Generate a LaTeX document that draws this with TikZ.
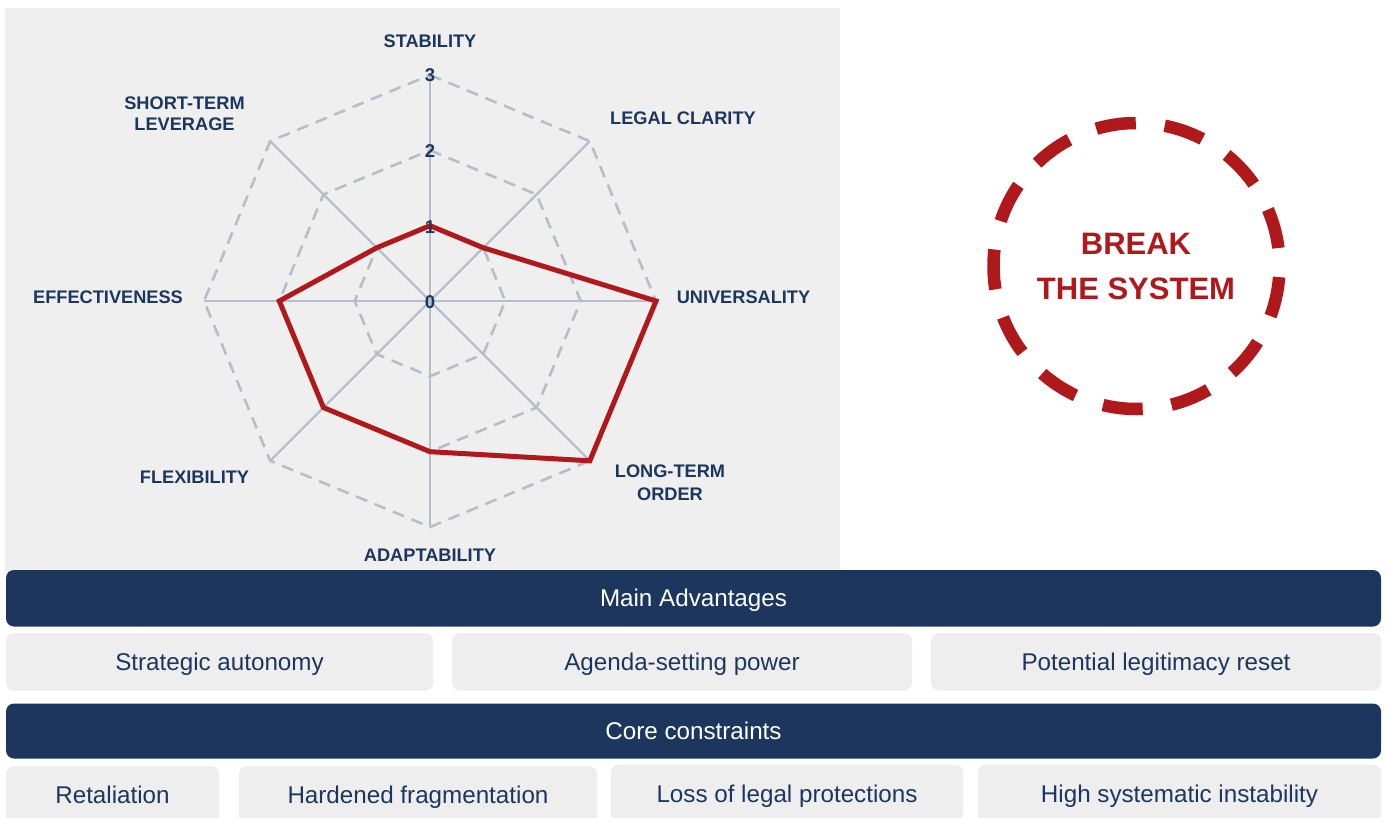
\documentclass[tikz,border=0pt]{standalone}
\usepackage{fontspec}
\setmainfont{Liberation Sans}
\usetikzlibrary{calc}
\definecolor{navy}{HTML}{1C365E}
\definecolor{panelgray}{HTML}{EFEFEF}
\definecolor{boxgray}{HTML}{EEEEEE}
\definecolor{gridc}{HTML}{B6BECA}
\definecolor{redc}{HTML}{B0191B}
\tikzset{
  gridaxis/.style={draw=gridc, line width=2.4pt},
  griddash/.style={draw=gridc, line width=2.6pt, dash pattern=on 12pt off 8pt},
  redline/.style={draw=redc, line width=5pt, line join=miter},
  axlabel/.style={text=navy, font=\fontsize{18.2}{21.7}\selectfont\bfseries, align=center, anchor=base, inner sep=0pt},
  numlabel/.style={text=navy, font=\fontsize{18.5}{21}\selectfont\bfseries, inner sep=0pt, text height=13.2pt, text depth=0pt},
  navybar/.style={fill=navy, rounded corners=8pt, text=white, font=\fontsize{24.2}{28}\selectfont, inner sep=0pt, text height=17.3pt, text depth=0pt},
  graybox/.style={fill=boxgray, rounded corners=8pt, text=navy, font=\fontsize{24.2}{28}\selectfont, inner sep=0pt, text height=17.3pt, text depth=0pt},
}
\begin{document}
\begin{tikzpicture}[x=1pt,y=-1pt]
\useasboundingbox (0,0) rectangle (1389,818);
\fill[white] (0,0) rectangle (1389,818);
\clip (0,0) rectangle (1389,818);
% panel
\fill[panelgray] (5,8) rectangle (840,572);
% radar chart
\begin{scope}[shift={(430,301)}]
  \coordinate (c) at (0,0);
  \foreach \r in {75.3,150.7,226} {
    \draw[griddash] (-90:\r) -- (-45:\r) -- (0:\r) -- (45:\r) -- (90:\r) -- (135:\r) -- (180:\r) -- (225:\r) -- cycle;
  }
  \foreach \a [count=\i] in {-90,-45,0,45,90,135,180,225} {
    \coordinate (ax\i) at (\a:226);
    \draw[gridaxis] (c) -- (ax\i);
  }
  \coordinate (p1) at (-90:75.3);
  \coordinate (p2) at (-45:75.3);
  \coordinate (p3) at (0:226);
  \coordinate (p4) at (45:226);
  \coordinate (p5) at (90:150.7);
  \coordinate (p6) at (135:150.7);
  \coordinate (p7) at (180:150.7);
  \coordinate (p8) at (225:75.3);
  \draw[redline] (p1) -- (p2) -- (p3) -- (p4) -- (p5) -- (p6) -- (p7) -- (p8) -- cycle;
  \node[numlabel] (n0) at (0,1) {0};
  \node[numlabel] (n1) at (0,-74.5) {1};
  \node[numlabel] (n2) at (0,-150) {2};
  \node[numlabel] (n3) at (0,-226) {3};
\end{scope}
% axis labels
\node[axlabel] (lstab) at (430,48) {STABILITY};
\node[axlabel] (llegal) at (683,125) {LEGAL CLARITY};
\node[axlabel] (luniv) at (743.5,304) {UNIVERSALITY};
\node[axlabel, font=\fontsize{18.2}{22.5}\selectfont\bfseries] (llong) at (670,500) {LONG-TERM\\ORDER};
\node[axlabel] (ladapt) at (430,561) {ADAPTABILITY};
\node[axlabel] (lflex) at (194.5,483.3) {FLEXIBILITY};
\node[axlabel] (leff) at (108,304) {EFFECTIVENESS};
\node[axlabel] (lshort) at (184.5,131) {SHORT-TERM\\LEVERAGE};
% break the system
\draw[draw=redc, line width=12.5pt, dash pattern=on 40pt off 29.12pt, dash phase=58pt] (1136.5,266) circle (143);
\node[text=redc, font=\fontsize{31}{46}\selectfont\bfseries, align=center, anchor=base, inner sep=0pt] (brk) at (1136,300) {BREAK\\THE SYSTEM};
% bars and boxes
\node[navybar, minimum width=1375pt, minimum height=56.5pt] (adv) at (693.5,598.25) {Main Advantages};
\node[graybox, minimum width=427pt, minimum height=57.5pt] (a1) at (219.5,661.75) {Strategic autonomy};
\node[graybox, minimum width=460pt, minimum height=57.5pt] (a2) at (682,661.75) {Agenda-setting power};
\node[graybox, minimum width=450pt, minimum height=57.5pt] (a3) at (1156,661.75) {Potential legitimacy reset};
\node[navybar, minimum width=1375pt, minimum height=55pt] (con) at (693.5,731) {Core constraints};
\node[graybox, minimum width=213pt, minimum height=58pt] (c1) at (112.5,795) {Retaliation};
\node[graybox, minimum width=358pt, minimum height=58pt] (c2) at (418,795) {Hardened fragmentation};
\node[graybox, minimum width=352pt, minimum height=58pt] (c3) at (787,793.5) {Loss of legal protections};
\node[graybox, minimum width=403pt, minimum height=58pt] (c4) at (1179.5,793.5) {High systematic instability};
\end{tikzpicture}
\end{document}
